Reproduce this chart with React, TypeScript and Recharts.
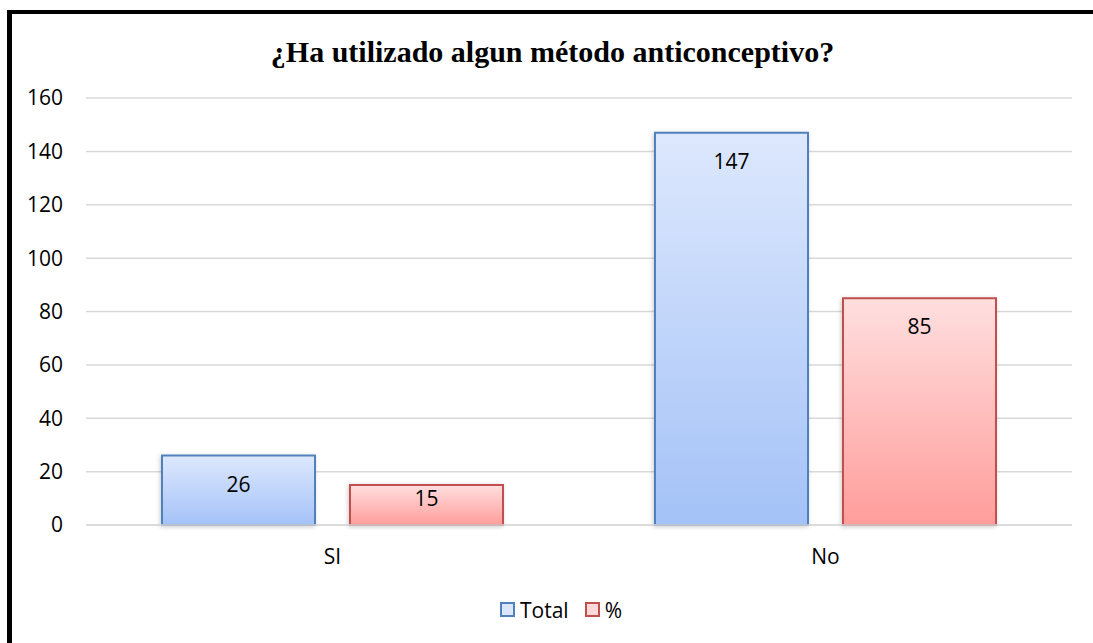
import { BarChart, Bar, XAxis, YAxis, CartesianGrid, LabelList } from "recharts";

const categories = ["SI", "No"];
const totalValues = [26, 147];
const percentValues = [15, 85];
const yTicks = [0, 20, 40, 60, 80, 100, 120, 140, 160];

const data = categories.map((name, i) => ({
  name,
  total: totalValues[i],
  pct: percentValues[i],
}));

const FONT = "'Open Sans', 'Liberation Sans', sans-serif";

// value label inside the top of the bar; short bars get it pulled up a bit
// eslint-disable-next-line @typescript-eslint/no-explicit-any
function BarLabel(props: any) {
  const { x, y, width, height, value } = props;
  const cy = height > 50 ? y + 28 : y + height / 2 - 7;
  return (
    <text
      x={x + width / 2}
      y={cy}
      textAnchor="middle"
      dominantBaseline="central"
      fontFamily={FONT}
      fontSize={21}
      fill="#000"
    >
      {value}
    </text>
  );
}

function LegendItem({
  label,
  stroke,
  fill,
  gap,
}: {
  label: string;
  stroke: string;
  fill: string;
  gap: number;
}) {
  return (
    <span style={{ display: "inline-flex", alignItems: "center", marginRight: gap }}>
      <span
        style={{
          display: "inline-block",
          width: 11,
          height: 11,
          border: `2px solid ${stroke}`,
          background: fill,
          marginRight: 5,
        }}
      />
      {label}
    </span>
  );
}

export default function App() {
  return (
    <div
      style={{
        position: "absolute",
        left: 0,
        top: 0,
        width: 1093,
        height: 643,
        background: "#fff",
        overflow: "hidden",
      }}
    >
      <style>{"html,body{margin:0;overflow:hidden;background:#fff}"}</style>
      {/* thick frame on the left and top only */}
      <div
        style={{
          position: "absolute",
          left: 7,
          top: 10,
          width: 1200,
          height: 700,
          borderLeft: "5px solid #000",
          borderTop: "4px solid #000",
        }}
      />
      <div
        style={{
          position: "absolute",
          left: 12,
          width: 1081,
          top: 32,
          textAlign: "center",
          fontFamily: "'Liberation Serif', 'Times New Roman', serif",
          fontWeight: 700,
          fontSize: 30,
          lineHeight: "40px",
        }}
      >
        ¿Ha utilizado algun método anticonceptivo?
      </div>

      <div style={{ position: "absolute", left: 0, top: 0 }}>
        <BarChart
          width={1093}
          height={643}
          data={data}
          margin={{ top: 98, right: 21, bottom: 78, left: 0 }}
          barCategoryGap={76}
          barGap={35}
        >
          <defs>
            <linearGradient id="gBlue" x1="0" y1="0" x2="0" y2="1">
              <stop offset="0%" stopColor="#dde8fd" />
              <stop offset="100%" stopColor="#a4c2f7" />
            </linearGradient>
            <linearGradient id="gRed" x1="0" y1="0" x2="0" y2="1">
              <stop offset="0%" stopColor="#ffdfdf" />
              <stop offset="100%" stopColor="#ff9d9b" />
            </linearGradient>
            <filter id="shadow" x="-10%" y="-10%" width="120%" height="120%">
              <feDropShadow dx="-1" dy="1" stdDeviation="2" floodColor="#000" floodOpacity="0.2" />
            </filter>
          </defs>
          <CartesianGrid vertical={false} stroke="#d9d9d9" strokeWidth={1.5} />
          <XAxis
            dataKey="name"
            axisLine={{ stroke: "#d9d9d9", strokeWidth: 1.5 }}
            tickLine={false}
            tickMargin={18}
            height={40}
            tick={{ fontSize: 21, fill: "#000", fontFamily: FONT }}
          />
          <YAxis
            domain={[0, 160]}
            ticks={yTicks}
            axisLine={false}
            tickLine={false}
            width={86}
            tickMargin={17}
            tick={{ fontSize: 21, fill: "#000", fontFamily: FONT }}
          />
          <Bar
            dataKey="total"
            name="Total"
            fill="url(#gBlue)"
            stroke="#4f81bd"
            strokeWidth={2}
            filter="url(#shadow)"
            isAnimationActive={false}
          >
            <LabelList dataKey="total" content={<BarLabel />} />
          </Bar>
          <Bar
            dataKey="pct"
            name="%"
            fill="url(#gRed)"
            stroke="#c0504d"
            strokeWidth={2}
            filter="url(#shadow)"
            isAnimationActive={false}
          >
            <LabelList dataKey="pct" content={<BarLabel />} />
          </Bar>
        </BarChart>
      </div>

      <div
        style={{
          position: "absolute",
          left: 500,
          top: 594,
          whiteSpace: "nowrap",
          fontFamily: FONT,
          fontSize: 21,
          lineHeight: "30px",
          color: "#000",
        }}
      >
        <LegendItem label="Total" stroke="#4f81bd" fill="#dbe6fc" gap={16} />
        <LegendItem label="%" stroke="#c0504d" fill="#ffd9d9" gap={0} />
      </div>
    </div>
  );
}
